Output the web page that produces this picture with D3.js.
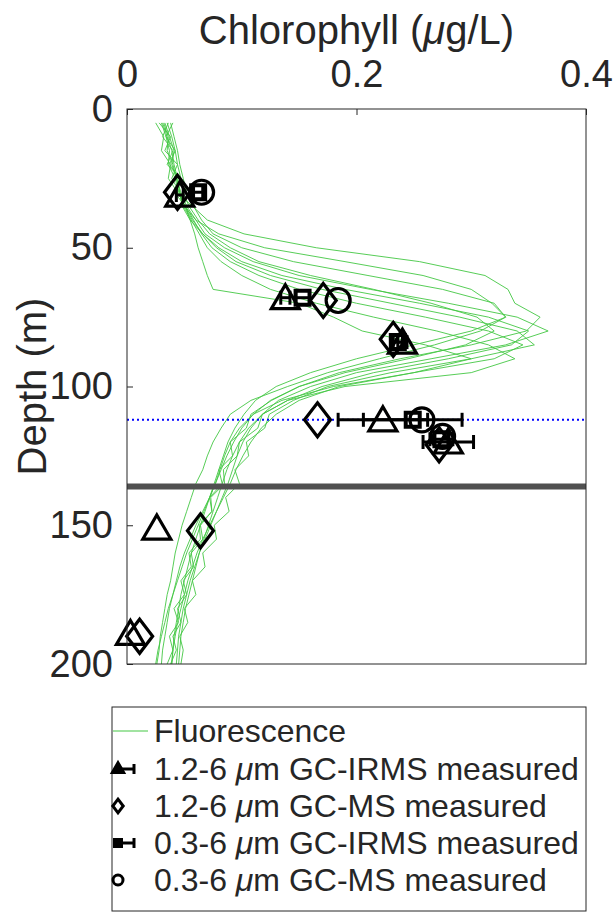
<!DOCTYPE html>
<html>
<head>
<meta charset="utf-8">
<script src="https://cdn.jsdelivr.net/npm/d3@7"></script>
<style>
  body { margin: 0; background: #fff; }
  text { font-family: "Liberation Sans", Arial, sans-serif; fill: #262626; }
</style>
</head>
<body>
<div id="chart"></div>
<script>
// fluorescence profiles (chlorophyll, ug/L) at these depths (m)
const depthGrid = [5,10,15,20,25,30,35,40,45,50,55,60,65,70,75,80,85,90,95,100,
  105,110,115,120,125,130,135,140,145,150,155,160,165,170,175,180,185,190,195,200];

const profiles = [
  [.036,.031,.040,.035,.047,.043,.057,.070,.102,.165,.255,.312,.332,.338,.360,.348,.300,.238,.185,.150,.126,.108,.104,.090,.092,.080,.083,.072,.074,.064,.066,.056,.058,.049,.052,.044,.047,.040,.043,.038],
  [.030,.034,.037,.036,.042,.045,.050,.060,.080,.120,.190,.258,.300,.318,.330,.308,.268,.220,.175,.140,.108,.090,.082,.075,.070,.066,.060,.056,.052,.048,.045,.042,.040,.038,.035,.033,.031,.029,.028,.026],
  [.033,.037,.041,.039,.043,.047,.052,.060,.068,.085,.110,.150,.212,.280,.340,.367,.330,.265,.200,.160,.132,.118,.108,.101,.096,.092,.088,.083,.078,.073,.068,.063,.059,.055,.052,.049,.047,.045,.044,.043],
  [.028,.038,.033,.044,.039,.046,.048,.055,.066,.080,.100,.135,.190,.255,.315,.350,.335,.280,.215,.170,.140,.118,.114,.098,.096,.084,.085,.073,.074,.063,.064,.054,.056,.047,.050,.041,.045,.037,.040,.035],
  [.032,.036,.035,.040,.043,.046,.049,.056,.063,.070,.082,.100,.125,.165,.215,.270,.315,.338,.300,.190,.140,.118,.106,.098,.092,.087,.083,.079,.075,.071,.067,.063,.060,.057,.054,.051,.049,.047,.046,.045],
  [.025,.032,.030,.038,.036,.044,.051,.055,.059,.062,.066,.070,.075,.150,.180,.205,.260,.300,.250,.180,.135,.110,.098,.090,.085,.081,.077,.072,.067,.062,.057,.052,.048,.044,.040,.036,.033,.030,.027,.025],
  [.038,.041,.044,.046,.049,.052,.058,.065,.075,.100,.145,.210,.275,.320,.330,.300,.250,.200,.160,.130,.112,.102,.094,.088,.084,.080,.076,.072,.068,.064,.060,.056,.053,.050,.047,.045,.043,.041,.040,.039],
  [.031,.035,.039,.041,.044,.046,.050,.057,.066,.078,.095,.125,.170,.230,.290,.340,.355,.300,.230,.175,.145,.124,.120,.104,.106,.094,.098,.086,.089,.076,.078,.066,.068,.057,.060,.050,.053,.046,.049,.047],
  [.035,.039,.042,.044,.047,.049,.054,.062,.072,.090,.115,.160,.215,.265,.305,.320,.295,.245,.190,.150,.125,.110,.100,.093,.087,.082,.077,.072,.066,.060,.055,.050,.046,.043,.040,.037,.035,.033,.031,.030],
  [.040,.034,.042,.037,.046,.041,.051,.058,.065,.074,.090,.115,.150,.200,.260,.315,.345,.320,.250,.185,.150,.130,.117,.108,.101,.095,.090,.084,.078,.072,.066,.061,.057,.053,.050,.047,.044,.042,.040,.039]
];

// measured samples
const irms12Depth = [31, 68, 84, 112, 120, 151, 189];
const irms12Value = [0.046, 0.138, 0.240, 0.223, 0.280, 0.026, 0.003];
const irms12Err   = [0.003, 0.004, 0.004, 0.039, 0.022, 0, 0];

const ms12Depth = [30, 69, 83, 112, 121, 152, 190];
const ms12Value = [0.044, 0.171, 0.232, 0.166, 0.272, 0.064, 0.011];

const irms03Depth = [30, 68, 84, 112, 119];
const irms03Value = [0.062, 0.153, 0.236, 0.249, 0.274];
const irms03Err   = [0.004, 0.006, 0.004, 0.043, 0.010];

const ms03Depth = [30, 69, 112, 118];
const ms03Value = [0.065, 0.184, 0.257, 0.275];

const xTicks = [0, 0.2, 0.4];
const yTicks = [0, 50, 100, 150, 200];
const blueLineDepth = 112;
const greyLineDepth = 136;

const legendLabels = [
  "Fluorescence",
  "1.2-6 |m GC-IRMS measured",
  "1.2-6 |m GC-MS measured",
  "0.3-6 |m GC-IRMS measured",
  "0.3-6 |m GC-MS measured"
];

const width = 615,
  height = 915,
  margin = { top: 109, left: 127, right: 29, bottom: 251 },
  green = "#45c845",
  ink = "#000";

const svg = d3.select("#chart").append("svg")
  .attr("width", width)
  .attr("height", height);

svg.append("rect").attr("width", width).attr("height", height).attr("fill", "#fff");

const xScale = d3.scaleLinear().domain([0, 0.4]).range([margin.left, width - margin.right]);
const yScale = d3.scaleLinear().domain([0, 200]).range([margin.top, height - margin.bottom]);

svg.append("clipPath").attr("id", "plot-clip")
  .append("rect")
  .attr("x", xScale(0)).attr("y", yScale(0))
  .attr("width", xScale(0.4) - xScale(0))
  .attr("height", yScale(200) - yScale(0));

const plot = svg.append("g").attr("clip-path", "url(#plot-clip)");

// fluorescence
const line = d3.line()
  .x(d => xScale(d[1]))
  .y(d => yScale(d[0]));

plot.selectAll(".profile")
  .data(profiles)
  .join("path")
  .attr("class", "profile")
  .attr("d", p => line(p.map((v, i) => [depthGrid[i], v])))
  .attr("fill", "none")
  .attr("stroke", green)
  .attr("stroke-width", 1)
  .attr("stroke-opacity", 0.9);

// reference lines
plot.append("line")
  .attr("x1", xScale(0)).attr("x2", xScale(0.4))
  .attr("y1", yScale(blueLineDepth)).attr("y2", yScale(blueLineDepth))
  .attr("stroke", "#0000ff")
  .attr("stroke-width", 2)
  .attr("stroke-dasharray", "2,3");

plot.append("line")
  .attr("x1", xScale(0)).attr("x2", xScale(0.4))
  .attr("y1", yScale(greyLineDepth)).attr("y2", yScale(greyLineDepth))
  .attr("stroke", "#505050")
  .attr("stroke-width", 6);

// marker shapes
function markerPath(type, s) {
  if (type === "triangle") return `M0,${-13 * s}L${14 * s},${11 * s}L${-14 * s},${11 * s}Z`;
  if (type === "diamond") return `M0,${-17 * s}L${13 * s},0L0,${17 * s}L${-13 * s},0Z`;
  return `M${-7 * s},${-7 * s}H${7 * s}V${7 * s}H${-7 * s}Z`;
}

function drawErrors(depths, values, errs) {
  const rows = depths.map((d, i) => ({ depth: d, value: values[i], err: errs[i] })).filter(r => r.err > 0);
  const g = svg.append("g").attr("stroke", ink).attr("stroke-width", 3).attr("fill", "none");
  g.selectAll(".bar").data(rows).join("line")
    .attr("x1", d => xScale(d.value - d.err)).attr("x2", d => xScale(d.value + d.err))
    .attr("y1", d => yScale(d.depth)).attr("y2", d => yScale(d.depth));
  g.selectAll(".capL").data(rows).join("line")
    .attr("x1", d => xScale(d.value - d.err)).attr("x2", d => xScale(d.value - d.err))
    .attr("y1", d => yScale(d.depth) - 7).attr("y2", d => yScale(d.depth) + 7);
  g.selectAll(".capR").data(rows).join("line")
    .attr("x1", d => xScale(d.value + d.err)).attr("x2", d => xScale(d.value + d.err))
    .attr("y1", d => yScale(d.depth) - 7).attr("y2", d => yScale(d.depth) + 7);
}

function drawMarkers(depths, values, type, strokeWidth) {
  const rows = depths.map((d, i) => ({ depth: d, value: values[i] }));
  const g = svg.append("g").attr("stroke", ink).attr("stroke-width", strokeWidth).attr("fill", "none");
  if (type === "circle") {
    g.selectAll("circle").data(rows).join("circle")
      .attr("cx", d => xScale(d.value)).attr("cy", d => yScale(d.depth)).attr("r", 12);
  } else {
    g.selectAll("path").data(rows).join("path")
      .attr("transform", d => `translate(${xScale(d.value)},${yScale(d.depth)})`)
      .attr("d", markerPath(type, 1))
      .attr("stroke-linejoin", "miter");
  }
}

drawErrors(irms12Depth, irms12Value, irms12Err);
drawMarkers(irms12Depth, irms12Value, "triangle", 3.2);
drawMarkers(ms12Depth, ms12Value, "diamond", 3.2);
drawErrors(irms03Depth, irms03Value, irms03Err);
drawMarkers(irms03Depth, irms03Value, "square", 4);
drawMarkers(ms03Depth, ms03Value, "circle", 3.2);

// axes
const xAxis = d3.axisTop(xScale).tickValues(xTicks).tickFormat(d3.format("")).tickSizeInner(-6).tickSizeOuter(0).tickPadding(22);
const yAxis = d3.axisLeft(yScale).tickValues(yTicks).tickFormat(d3.format("")).tickSizeInner(-6).tickSizeOuter(0).tickPadding(14);

const gx = svg.append("g").attr("transform", `translate(0,${yScale(0)})`).call(xAxis);
const gy = svg.append("g").attr("transform", `translate(${xScale(0)},0)`).call(yAxis);
[gx, gy].forEach(g => {
  g.select(".domain").remove();
  g.selectAll(".tick line").attr("stroke", "#262626");
  g.selectAll(".tick text").attr("font-size", 38).attr("font-family", "Liberation Sans, Arial, sans-serif").attr("fill", "#262626");
});

svg.append("rect")
  .attr("x", xScale(0)).attr("y", yScale(0))
  .attr("width", xScale(0.4) - xScale(0))
  .attr("height", yScale(200) - yScale(0))
  .attr("fill", "none")
  .attr("stroke", "#262626")
  .attr("stroke-width", 1);

const xTitle = svg.append("text")
  .attr("x", (xScale(0) + xScale(0.4)) / 2)
  .attr("y", 44)
  .attr("text-anchor", "middle")
  .attr("font-size", 40);
xTitle.append("tspan").text("Chlorophyll (");
xTitle.append("tspan").attr("font-style", "italic").text("μ");
xTitle.append("tspan").text("g/L)");

svg.append("text")
  .attr("transform", `translate(46,${(yScale(0) + yScale(200)) / 2}) rotate(-90)`)
  .attr("text-anchor", "middle")
  .attr("font-size", 40)
  .text("Depth (m)");

// legend
const legendBox = { x: 112, y: 707, w: 474, h: 204 };
const legendRowY = [731, 769, 806, 843, 880];

svg.append("rect")
  .attr("x", legendBox.x).attr("y", legendBox.y)
  .attr("width", legendBox.w).attr("height", legendBox.h)
  .attr("fill", "#fff")
  .attr("stroke", "#262626")
  .attr("stroke-width", 1);

const legend = svg.append("g");
legendLabels.forEach((label, i) => {
  const t = legend.append("text")
    .attr("x", 154)
    .attr("y", legendRowY[i])
    .attr("dy", "0.35em")
    .attr("font-size", 32)
    .attr("fill", "#000");
  const parts = label.split("|");
  t.append("tspan").text(parts[0]);
  if (parts.length > 1) {
    t.append("tspan").attr("font-style", "italic").text("μ");
    t.append("tspan").text(parts[1]);
  }
});

legend.append("line")
  .attr("x1", 113).attr("x2", 148)
  .attr("y1", legendRowY[0]).attr("y2", legendRowY[0])
  .attr("stroke", green).attr("stroke-width", 1.2);

function legendBar(y) {
  legend.append("line").attr("x1", 116).attr("x2", 134).attr("y1", y).attr("y2", y)
    .attr("stroke", ink).attr("stroke-width", 3);
  legend.append("line").attr("x1", 134).attr("x2", 134).attr("y1", y - 5).attr("y2", y + 5)
    .attr("stroke", ink).attr("stroke-width", 3);
}
legendBar(legendRowY[1]);
legend.append("path").attr("transform", `translate(118,${legendRowY[1] - 1})`)
  .attr("d", markerPath("triangle", 0.4)).attr("fill", ink).attr("stroke", ink).attr("stroke-width", 3);
legend.append("path").attr("transform", `translate(118,${legendRowY[2]})`)
  .attr("d", markerPath("diamond", 0.4)).attr("fill", "none").attr("stroke", ink).attr("stroke-width", 3);
legendBar(legendRowY[3]);
legend.append("path").attr("transform", `translate(118,${legendRowY[3]})`)
  .attr("d", markerPath("square", 0.5)).attr("fill", ink).attr("stroke", ink).attr("stroke-width", 3);
legend.append("circle").attr("cx", 118).attr("cy", legendRowY[4]).attr("r", 5)
  .attr("fill", "none").attr("stroke", ink).attr("stroke-width", 3);
</script>
</body>
</html>
